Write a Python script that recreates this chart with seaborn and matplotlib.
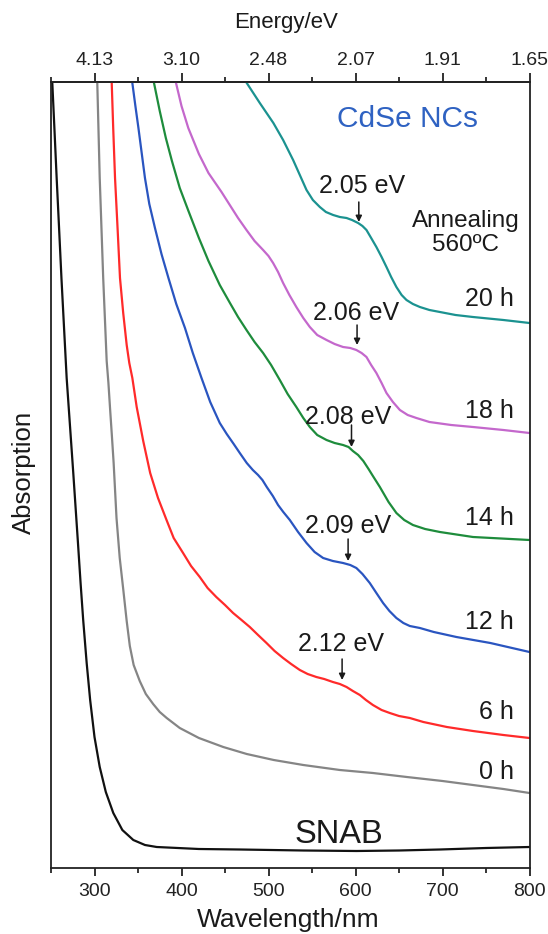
import numpy as np
import pandas as pd
import matplotlib
matplotlib.use("Agg")
import matplotlib.pyplot as plt
import seaborn as sns

# ---------------- data ----------------
snab_wl = [250, 251.5, 254, 256.5, 259, 262, 265, 268, 272, 275.6, 281, 284, 287, 291, 295, 300,
           306, 313, 321.6, 332, 344.6, 358, 371.5, 420, 467, 540, 601, 650, 697, 750, 800]
snab_abs = [8.12, 7.85, 7.38, 6.90, 6.45, 5.90, 5.40, 4.90, 4.40, 3.95, 3.25, 2.85, 2.48, 2.05, 1.68,
            1.31, 1.01, 0.76, 0.55, 0.38, 0.28, 0.23, 0.21, 0.19, 0.185, 0.175, 0.17, 0.175, 0.185,
            0.20, 0.21]

h0_wl = [302.8, 303.2, 306, 310, 314, 316, 318, 320, 322, 325.3, 329, 333, 337, 340.6, 345, 352,
         359, 367.4, 375, 383, 398, 420, 448, 475, 506, 540, 582, 620, 659, 700, 735, 770, 800]
h0_abs = [8.02, 7.85, 6.90, 5.90, 5.07, 4.85, 4.58, 4.32, 4.05, 3.50, 3.10, 2.79, 2.47, 2.22, 2.03,
          1.87, 1.74, 1.64, 1.56, 1.50, 1.40, 1.30, 1.21, 1.14, 1.08, 1.03, 0.98, 0.95, 0.91, 0.87,
          0.83, 0.79, 0.75]

h6_wl = [319.2, 319.8, 321.5, 323.6, 326.5, 329.3, 333, 337, 340, 343.5, 348.5, 356, 364, 373,
         382.8, 391, 401.8, 411, 421, 430, 440, 450, 459.3, 469, 478.5, 488, 497.7, 507, 516.8,
         526, 536, 545, 555, 564, 574, 582, 589.7, 597, 605, 612, 620, 630, 639.4, 650, 662.4,
         678, 705, 735, 770, 800]
h6_abs = [8.02, 7.85, 7.40, 6.90, 6.40, 5.90, 5.55, 5.23, 5.05, 4.90, 4.61, 4.27, 3.95, 3.70,
          3.48, 3.30, 3.15, 3.02, 2.91, 2.80, 2.71, 2.63, 2.55, 2.48, 2.41, 2.33, 2.25, 2.17, 2.10,
          2.04, 1.98, 1.94, 1.91, 1.89, 1.86, 1.84, 1.81, 1.77, 1.73, 1.68, 1.63, 1.58, 1.55, 1.52,
          1.50, 1.46, 1.41, 1.37, 1.33, 1.30]

h12_wl = [341, 343.5, 347, 350.5, 358, 363, 369.5, 377, 385, 394, 404, 413, 423, 433, 444, 452,
          460, 467, 475, 482, 488, 493, 498, 505, 511, 517, 524.5, 534, 543.7, 553, 562.8, 574,
          585.7, 594, 601, 608, 616.4, 624, 631.7, 639, 647, 655, 662.4, 674, 690, 716, 755, 800]
h12_abs = [8.02, 7.85, 7.62, 7.40, 6.90, 6.64, 6.40, 6.14, 5.90, 5.64, 5.40, 5.15, 4.90, 4.66,
           4.45, 4.34, 4.24, 4.15, 4.05, 3.98, 3.93, 3.88, 3.81, 3.72, 3.63, 3.56, 3.48, 3.36, 3.25,
           3.16, 3.10, 3.07, 3.05, 3.03, 3.00, 2.94, 2.85, 2.75, 2.65, 2.57, 2.50, 2.45, 2.42, 2.40,
           2.36, 2.31, 2.25, 2.16]

h14_wl = [364, 368.4, 375, 382, 389, 398, 408, 420, 431, 444, 455.7, 465, 474.7, 484, 493.8, 503,
          513, 522, 532, 540, 547.5, 556, 566.7, 576, 585.7, 592, 597, 603, 609, 615, 620, 628,
          638, 647, 656, 666, 680, 697, 735, 800]
h14_abs = [8.04, 7.85, 7.57, 7.30, 7.07, 6.80, 6.57, 6.30, 6.07, 5.83, 5.65, 5.51, 5.38, 5.26,
           5.15, 5.03, 4.88, 4.74, 4.61, 4.50, 4.41, 4.33, 4.28, 4.25, 4.23, 4.21, 4.17, 4.13, 4.07,
           3.99, 3.92, 3.81, 3.66, 3.55, 3.48, 3.43, 3.39, 3.36, 3.31, 3.28]

h18_wl = [388, 393.7, 400, 407.8, 420, 431, 446, 455.5, 465, 474.7, 484, 493.8, 500, 505.3, 511,
          516.8, 524, 532, 540, 547.5, 556, 566.7, 576, 585.7, 594, 601, 607, 612.6, 618, 624, 630,
          635.6, 643, 651, 660, 670, 685, 710, 735, 770, 800]
h18_abs = [8.04, 7.85, 7.62, 7.40, 7.14, 6.95, 6.76, 6.63, 6.50, 6.38, 6.27, 6.18, 6.12, 6.05,
           5.96, 5.85, 5.73, 5.61, 5.50, 5.41, 5.33, 5.28, 5.24, 5.21, 5.20, 5.18, 5.15, 5.11, 5.03,
           4.95, 4.85, 4.75, 4.66, 4.58, 4.53, 4.50, 4.46, 4.43, 4.41, 4.38, 4.35]

h20_wl = [460, 475, 490, 505.6, 516.8, 528.3, 536, 543.7, 551, 559, 566, 574.3, 582, 589.7, 596,
          603, 608, 612.6, 618, 624, 630, 635.6, 641, 647, 653, 658.6, 666, 674, 685, 697, 715,
          735, 770, 800]
h20_abs = [8.05, 7.85, 7.65, 7.45, 7.28, 7.08, 6.93, 6.78, 6.68, 6.61, 6.56, 6.53, 6.51, 6.50,
           6.48, 6.45, 6.42, 6.38, 6.30, 6.21, 6.11, 6.01, 5.91, 5.81, 5.73, 5.68, 5.64, 5.61, 5.58,
           5.56, 5.53, 5.51, 5.48, 5.45]

sample_names = ["SNAB", "0 h", "6 h", "12 h", "14 h", "18 h", "20 h"]
sample_colors = ["#111111", "#858585", "#ff2a2a", "#2a55c0", "#1e8c3c", "#c468cc", "#1b9290"]

# exciton peak annotations
peak_labels = ["2.05 eV", "2.06 eV", "2.08 eV", "2.09 eV", "2.12 eV"]
peak_arrow_wl = [603.8, 601.8, 595.4, 591.5, 584.6]
peak_arrow_tail = [6.66, 5.43, 4.43, 3.29, 2.09]
peak_arrow_tip = [6.46, 5.23, 4.21, 3.07, 1.88]
peak_text_wl = [607, 600.1, 591.5, 591.5, 583.9]
peak_text_abs = [6.75, 5.48, 4.44, 3.35, 2.17]

time_labels = ["20 h", "18 h", "14 h", "12 h", "6 h", "0 h"]
time_label_abs = [5.62, 4.50, 3.43, 2.39, 1.49, 0.89]

x_ticks = [300, 400, 500, 600, 700, 800]
energy_tick_labels = ["4.13", "3.10", "2.48", "2.07", "1.91", "1.65"]

# ---------------- build table ----------------
wls = [snab_wl, h0_wl, h6_wl, h12_wl, h14_wl, h18_wl, h20_wl]
abss = [snab_abs, h0_abs, h6_abs, h12_abs, h14_abs, h18_abs, h20_abs]
frames = []
for name, w, a in zip(sample_names, wls, abss):
    frames.append(pd.DataFrame({"wl": w, "abs": a, "sample": name}))
df = pd.concat(frames, ignore_index=True)

# ---------------- plot ----------------
sns.set_style("white")
plt.rcParams["font.family"] = ["Liberation Sans", "DejaVu Sans"]
plt.rcParams["axes.linewidth"] = 1.3
plt.rcParams["lines.solid_joinstyle"] = "round"

fig = plt.figure(figsize=(5.48, 9.34), dpi=100)
ax = fig.add_axes([51 / 548, 66 / 934, (529.5 - 51) / 548, (868 - 82) / 934])

sns.lineplot(data=df, x="wl", y="abs", hue="sample", hue_order=sample_names,
             palette=sample_colors, sort=False, estimator=None, units="sample",
             legend=False, linewidth=1.6, ax=ax)

ax.set_xlim(250, 800)
ax.set_ylim(0, 7.86)
ax.set_xlabel("")
ax.set_ylabel("")
ax.set_yticks([])
for s in ax.spines.values():
    s.set_color("#222222")
    s.set_linewidth(1.3)

minor_ticks = np.arange(250, 801, 100)
ax.set_xticks(x_ticks)
ax.set_xticks(minor_ticks, minor=True)
ax.tick_params(axis="x", which="major", direction="out", length=6, width=1.3,
               labelsize=14, pad=5, colors="#222222", bottom=True)
ax.tick_params(axis="x", which="minor", direction="out", length=3.5, width=1.3, bottom=True)

sec = ax.secondary_xaxis("top")
sec.set_xticks(x_ticks, labels=energy_tick_labels)
sec.set_xticks(minor_ticks, minor=True)
sec.tick_params(axis="x", which="major", direction="out", length=6.5, width=1.3,
                labelsize=14, pad=3, colors="#222222")
sec.tick_params(axis="x", which="minor", direction="out", length=3.5, width=1.3)
sec.spines["top"].set_linewidth(1.3)

# annotations
for lab, aw, at, ap, tw, ta in zip(peak_labels, peak_arrow_wl, peak_arrow_tail, peak_arrow_tip,
                                   peak_text_wl, peak_text_abs):
    ax.text(tw, ta, lab, ha="center", va="baseline", fontsize=18, color="#1a1a1a")
    ax.annotate("", xy=(aw, ap), xytext=(aw, at),
                arrowprops=dict(arrowstyle="-|>", color="#1a1a1a", lw=1.1,
                                mutation_scale=9, shrinkA=0, shrinkB=0))

for lab, ya in zip(time_labels, time_label_abs):
    ax.text(782, ya, lab, ha="right", va="baseline", fontsize=18, color="#1a1a1a")

ax.text(726.6, 6.41, "Annealing", ha="center", va="baseline", fontsize=17.5, color="#1a1a1a")
ax.text(726.6, 6.17, "560ºC", ha="center", va="baseline", fontsize=17.5, color="#1a1a1a")
ax.text(659.5, 7.41, "CdSe NCs", ha="center", va="baseline", fontsize=21.5, color="#2f62c2")
ax.text(581, 0.25, "SNAB", ha="center", va="baseline", fontsize=23.5, color="#1a1a1a")

fig.text(24 / 548, 1 - 472 / 934, "Absorption", rotation=90, ha="center", va="center",
         fontsize=18.5, color="#1a1a1a")
fig.text(288.5 / 548, 7 / 934, "Wavelength/nm", ha="center", va="baseline",
         fontsize=19, color="#1a1a1a")
fig.text(286 / 548, 1 - 28 / 934, "Energy/eV", ha="center", va="baseline",
         fontsize=16, color="#1a1a1a")

fig.savefig("out.png", dpi=100, facecolor="white")
